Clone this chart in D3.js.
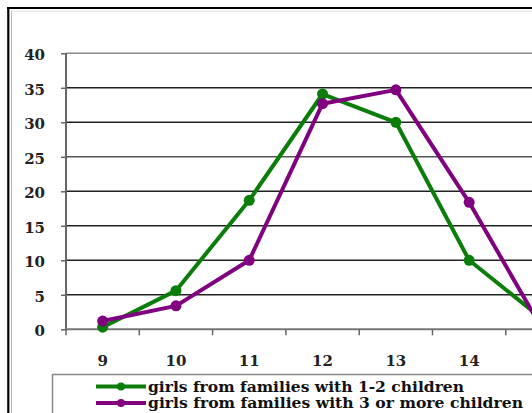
<!DOCTYPE html>
<html><head><meta charset="utf-8">
<script src="https://cdn.jsdelivr.net/npm/d3@7"></script>
<style>html,body{margin:0;padding:0;background:#fff;overflow:hidden}</style>
</head><body>
<svg id="c" width="532" height="413"></svg>
<script>
const categories = [9, 10, 11, 12, 13, 14, 15];
const xTickLabels = [9, 10, 11, 12, 13, 14];
const series1 = [0.3, 5.6, 18.7, 34.1, 30.0, 10.0, 1.5];
const series2 = [1.2, 3.4, 10.0, 32.7, 34.7, 18.4, 0.0];
const seriesNames = ["girls from families with 1-2 children", "girls from families with 3 or more children"];
const yTicks = [0, 5, 10, 15, 20, 25, 30, 35, 40];
const colors = ["#0b7d0b", "#800080"];

const svg = d3.select("#c");
const serif = "'DejaVu Serif', 'Liberation Serif', serif";

// frame
svg.append("line").attr("x1", 8.3).attr("x2", 8.3).attr("y1", 7).attr("y2", 413).attr("stroke", "#000").attr("stroke-width", 2.2);
svg.append("line").attr("x1", 7).attr("x2", 532).attr("y1", 8).attr("y2", 8).attr("stroke", "#000").attr("stroke-width", 2.2);
svg.append("line").attr("x1", 11.5).attr("x2", 11.5).attr("y1", 11).attr("y2", 413).attr("stroke", "#bbb").attr("stroke-width", 1);
svg.append("line").attr("x1", 11).attr("x2", 532).attr("y1", 11).attr("y2", 11).attr("stroke", "#ddd").attr("stroke-width", 1);

const x0 = 66, step = 73.3;
const x = d3.scaleBand().domain(categories).range([x0, x0 + step * categories.length]).paddingInner(0).paddingOuter(0);
const y = d3.scaleLinear().domain([0, 40]).range([329.3, 53.3]);

// gridlines
svg.append("g").selectAll("line").data(yTicks.filter(d => d > 0)).join("line")
  .attr("x1", x0).attr("x2", 532)
  .attr("y1", d => y(d)).attr("y2", d => y(d))
  .attr("stroke", d => d === 40 ? "#8a8a8a" : (d === 25 ? "#555" : "#222"))
  .attr("stroke-width", 1.5);

// y axis
const yAxis = d3.axisLeft(y).tickValues(yTicks).tickSize(5).tickPadding(16).tickFormat(d3.format("d"));
const gy = svg.append("g").attr("transform", `translate(${x0},0)`).call(yAxis);
gy.select(".domain").remove();
gy.selectAll(".tick line").attr("stroke", "#666").attr("stroke-width", 1.5);
gy.selectAll(".tick text").attr("font-family", serif).attr("font-weight", "bold").attr("font-size", 15).attr("fill", "#222").attr("dy", "0.42em");
svg.append("line").attr("x1", x0).attr("x2", x0).attr("y1", y(40)).attr("y2", y(0) + 1).attr("stroke", "#666").attr("stroke-width", 2);

// x axis
svg.append("line").attr("x1", x0).attr("x2", 532).attr("y1", y(0)).attr("y2", y(0)).attr("stroke", "#777").attr("stroke-width", 2);
const boundaries = categories.map(c => x(c));
svg.append("g").selectAll("line").data(boundaries).join("line")
  .attr("x1", d => d).attr("x2", d => d).attr("y1", y(0)).attr("y2", y(0) + 6)
  .attr("stroke", "#666").attr("stroke-width", 1.5);
svg.append("g").selectAll("text").data(xTickLabels).join("text")
  .attr("x", d => x(d) + x.bandwidth() / 2).attr("y", 366)
  .attr("text-anchor", "middle")
  .attr("font-family", serif).attr("font-weight", "bold").attr("font-size", 15).attr("fill", "#222")
  .text(d => d);

// lines
const cx = d => x(d) + x.bandwidth() / 2;
const line = d3.line().x((d, i) => cx(categories[i])).y(d => y(d));
[series1, series2].forEach((s, k) => {
  const g = svg.append("g");
  g.append("path").datum(s).attr("d", line).attr("fill", "none").attr("stroke", colors[k]).attr("stroke-width", 4).attr("stroke-linejoin", "round");
  g.selectAll("circle").data(s).join("circle")
    .attr("cx", (d, i) => cx(categories[i])).attr("cy", d => y(d)).attr("r", 5.5).attr("fill", colors[k]);
});

// legend
svg.append("rect").attr("x", 52.5).attr("y", 374.5).attr("width", 500).attr("height", 60)
  .attr("fill", "#fff").attr("stroke", "#888").attr("stroke-width", 1.5);
const ly = [386.5, 403];
seriesNames.forEach((n, k) => {
  svg.append("line").attr("x1", 96).attr("x2", 146).attr("y1", ly[k]).attr("y2", ly[k]).attr("stroke", colors[k]).attr("stroke-width", 4);
  svg.append("circle").attr("cx", 121).attr("cy", ly[k]).attr("r", 4).attr("fill", colors[k]);
  svg.append("text").attr("x", 148).attr("y", ly[k] + 5)
    .attr("font-family", serif).attr("font-weight", "bold").attr("font-size", 14.5).attr("fill", "#111")
    .attr("textLength", k === 0 ? 316 : 375).attr("lengthAdjust", "spacingAndGlyphs")
    .text(n);
});
</script>
</body></html>
